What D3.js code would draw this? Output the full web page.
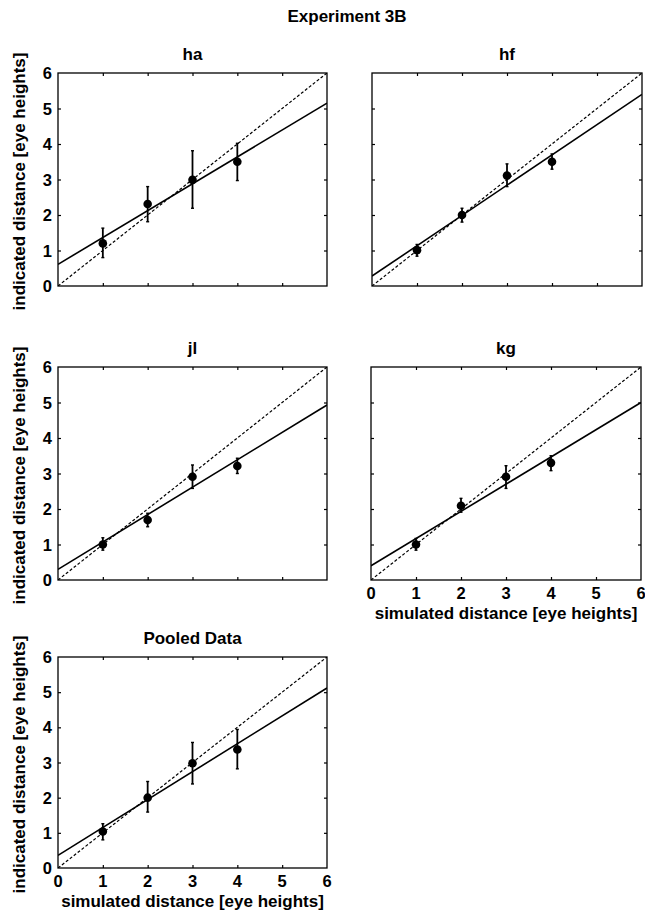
<!DOCTYPE html>
<html>
<head>
<meta charset="utf-8">
<script src="https://cdn.jsdelivr.net/npm/d3@7"></script>
<style>
  html, body { margin: 0; padding: 0; background: #fff; }
  svg { display: block; }
  text { font-family: "Liberation Sans", Arial, Helvetica, sans-serif; font-weight: bold; fill: #000; }
</style>
</head>
<body>
<svg id="fig" width="645" height="916"></svg>
<script>
// Experiment 3B: indicated vs simulated distance, per observer and pooled
const panelNames = ["ha", "hf", "jl", "kg", "Pooled Data"];
const simulated = [1, 2, 3, 4];
const meanIndicated = [
  [1.20, 2.31, 2.99, 3.50],
  [1.01, 2.00, 3.11, 3.50],
  [1.00, 1.69, 2.91, 3.21],
  [1.00, 2.09, 2.91, 3.30],
  [1.04, 2.00, 2.98, 3.37]
];
const errLow = [
  [0.80, 1.81, 2.19, 2.97],
  [0.84, 1.80, 2.80, 3.29],
  [0.84, 1.50, 2.58, 3.00],
  [0.84, 1.91, 2.58, 3.08],
  [0.80, 1.59, 2.39, 2.82]
];
const errHigh = [
  [1.63, 2.80, 3.81, 4.02],
  [1.17, 2.19, 3.44, 3.72],
  [1.19, 1.88, 3.24, 3.43],
  [1.17, 2.30, 3.22, 3.50],
  [1.26, 2.46, 3.57, 3.94]
];
const fitIntercept = [0.61, 0.28, 0.30, 0.40, 0.36];
const fitRightEnd = [5.15, 5.40, 4.93, 5.00, 5.12]; // fitted value at x = 6
const tickValues = [0, 1, 2, 3, 4, 5, 6];

// panel boxes: [left, top, right, bottom]
const boxes = [
  [58, 73, 327, 286],
  [372, 73, 642, 286],
  [58, 367, 327, 580],
  [371, 367, 641, 580],
  [58, 657, 327, 868]
];
const showYLabels = [true, false, true, false, true];
const showXLabels = [false, false, false, true, true];

const svg = d3.select("#fig");

svg.append("text")
  .attr("x", 347).attr("y", 22)
  .attr("text-anchor", "middle")
  .style("font-size", "17px")
  .text("Experiment 3B");

panelNames.forEach((name, i) => {
  const [l, t, r, b] = boxes[i];
  const x = d3.scaleLinear().domain([0, 6]).range([l, r]);
  const y = d3.scaleLinear().domain([0, 6]).range([b, t]);
  const g = svg.append("g");

  // inward ticks on all four sides
  const tl = 3;
  const inner = tickValues.slice(1, -1);
  g.append("g").attr("transform", `translate(0,${b})`)
    .call(d3.axisTop(x).tickValues(inner).tickSize(tl).tickFormat(""))
    .call(s => s.select(".domain").remove());
  g.append("g").attr("transform", `translate(0,${t})`)
    .call(d3.axisBottom(x).tickValues(inner).tickSize(tl).tickFormat(""))
    .call(s => s.select(".domain").remove());
  g.append("g").attr("transform", `translate(${l},0)`)
    .call(d3.axisRight(y).tickValues(inner).tickSize(tl).tickFormat(""))
    .call(s => s.select(".domain").remove());
  g.append("g").attr("transform", `translate(${r},0)`)
    .call(d3.axisLeft(y).tickValues(inner).tickSize(tl).tickFormat(""))
    .call(s => s.select(".domain").remove());
  g.selectAll(".tick line").attr("stroke", "#000").attr("stroke-width", 1.2);

  // tick labels
  if (showYLabels[i]) {
    g.selectAll(".ylab").data(tickValues).enter().append("text")
      .attr("x", l - 6).attr("y", d => y(d) + 6)
      .attr("text-anchor", "end")
      .style("font-size", "16.5px")
      .text(d => d);
  }
  if (showXLabels[i]) {
    g.selectAll(".xlab").data(tickValues).enter().append("text")
      .attr("x", d => x(d)).attr("y", b + 19)
      .attr("text-anchor", "middle")
      .style("font-size", "16.5px")
      .text(d => d);
    g.append("text")
      .attr("x", (l + r) / 2).attr("y", b + 39)
      .attr("text-anchor", "middle")
      .style("font-size", "17px")
      .text("simulated distance [eye heights]");
  }
  if (showYLabels[i]) {
    g.append("text")
      .attr("transform", `translate(25,${(t + b) / 2 + 2}) rotate(-90)`)
      .attr("text-anchor", "middle")
      .style("font-size", "17px")
      .text("indicated distance [eye heights]");
  }

  // panel title
  g.append("text")
    .attr("x", (l + r) / 2).attr("y", t - 13)
    .attr("text-anchor", "middle")
    .style("font-size", "17px")
    .text(name);

  // clip to the axes box
  const clipId = "clip" + i;
  svg.append("clipPath").attr("id", clipId)
    .append("rect").attr("x", l).attr("y", t).attr("width", r - l).attr("height", b - t);
  const plot = g.append("g").attr("clip-path", `url(#${clipId})`);

  // veridical line y = x
  plot.append("line")
    .attr("x1", x(0)).attr("y1", y(0)).attr("x2", x(6)).attr("y2", y(6))
    .attr("stroke", "#000").attr("stroke-width", 1.2)
    .attr("stroke-dasharray", "3,2");

  // regression line
  plot.append("line")
    .attr("x1", x(0)).attr("y1", y(fitIntercept[i]))
    .attr("x2", x(6)).attr("y2", y(fitRightEnd[i]))
    .attr("stroke", "#000").attr("stroke-width", 1.6);

  // error bars
  simulated.forEach((sx, k) => {
    const cx = x(sx);
    plot.append("line")
      .attr("x1", cx).attr("x2", cx)
      .attr("y1", y(errLow[i][k])).attr("y2", y(errHigh[i][k]))
      .attr("stroke", "#000").attr("stroke-width", 1.8);
    [errLow[i][k], errHigh[i][k]].forEach(v => {
      plot.append("line")
        .attr("x1", cx - 1.5).attr("x2", cx + 1.5)
        .attr("y1", y(v)).attr("y2", y(v))
        .attr("stroke", "#000").attr("stroke-width", 1.4);
    });
  });

  // means
  plot.selectAll("circle").data(simulated).enter().append("circle")
    .attr("cx", d => x(d))
    .attr("cy", (d, k) => y(meanIndicated[i][k]))
    .attr("r", 4.3)
    .attr("fill", "#000");

  // axes box
  g.append("rect")
    .attr("x", l).attr("y", t).attr("width", r - l).attr("height", b - t)
    .attr("fill", "none").attr("stroke", "#000").attr("stroke-width", 1.3);
});
</script>
</body>
</html>
